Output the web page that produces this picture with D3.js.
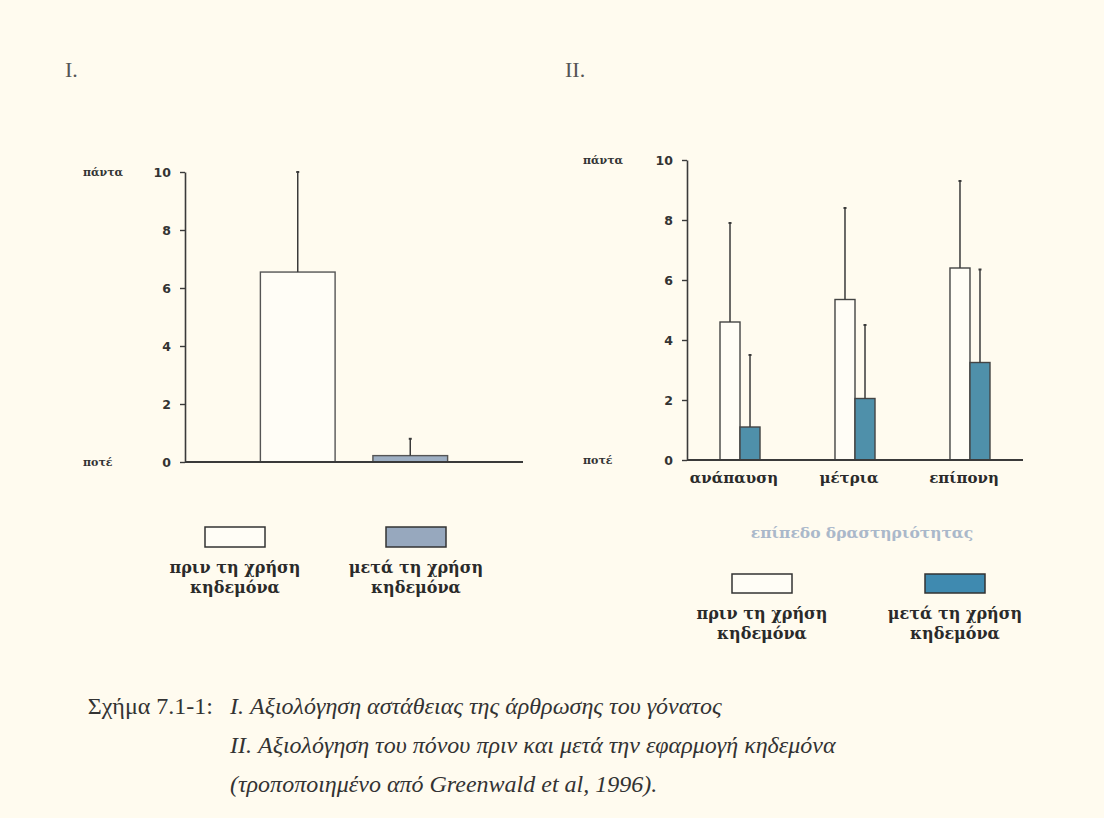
<!DOCTYPE html>
<html>
<head>
<meta charset="utf-8">
<script src="https://cdn.jsdelivr.net/npm/d3@7"></script>
<style>
  body { margin: 0; background: #fffbef; }
  svg { display: block; }
</style>
</head>
<body>
<svg width="1104" height="818"></svg>
<script>
// Chart I: knee joint instability
var groupsI = ["πριν", "μετά"];
var meanI = [6.55, 0.22];
var sdI = [3.45, 0.58];

// Chart II: pain by activity level
var activity = ["ανάπαυση", "μέτρια", "επίπονη"];
var beforeII = [4.6, 5.35, 6.4];
var beforeSdII = [3.3, 3.05, 2.9];
var afterII = [1.1, 2.05, 3.25];
var afterSdII = [2.4, 2.45, 3.1];

var yTicks = [0, 2, 4, 6, 8, 10];
var legendLines = [["πριν τη χρήση", "κηδεμόνα"], ["μετά τη χρήση", "κηδεμόνα"]];

var captionHead = "Σχήμα 7.1-1:";
var captionLines = [
  "I. Αξιολόγηση αστάθειας της άρθρωσης του γόνατος",
  "II. Αξιολόγηση του πόνου πριν και μετά την εφαρμογή κηδεμόνα",
  "(τροποποιημένο από Greenwald et al, 1996)."
];

var svg = d3.select("svg");
var ink = "#3a3a3a";
var boldFont = "'DejaVu Serif', serif";
var capFont = "'Liberation Serif', 'DejaVu Serif', serif";

svg.append("rect").attr("width", 1104).attr("height", 818).attr("fill", "#fffbef");

function yAxis(g, y, labelX) {
  var ax = g.append("g")
    .call(d3.axisLeft(y).tickValues(yTicks).tickSize(5).tickSizeOuter(0).tickPadding(9))
  ax.select(".domain").attr("stroke", ink).attr("stroke-width", 1.6);
  ax.selectAll(".tick line").attr("stroke", ink).attr("stroke-width", 1.4);
  ax.selectAll(".tick text")
    .style("font-family", "'DejaVu Sans', sans-serif")
    .style("font-weight", "bold")
    .style("font-size", "12.5px")
    .attr("fill", "#333");
  [["πάντα", 10], ["ποτέ", 0]].forEach(function(p) {
    g.append("text").attr("x", labelX).attr("y", y(p[1]) + 4)
      .style("font-family", boldFont).style("font-weight", "bold")
      .style("font-size", "11px").attr("fill", "#333").text(p[0]);
  });
}

function errBar(g, x, y0, y1) {
  g.append("line").attr("x1", x).attr("x2", x).attr("y1", y0).attr("y2", y1)
    .attr("stroke", ink).attr("stroke-width", 1.5);
  g.append("line").attr("x1", x - 1.5).attr("x2", x + 1.5).attr("y1", y1).attr("y2", y1)
    .attr("stroke", ink).attr("stroke-width", 2);
}

function legend(g, x0, x1, yRect, w, h, fills) {
  [x0, x1].forEach(function(cx, i) {
    g.append("rect").attr("x", cx - w / 2).attr("y", yRect).attr("width", w).attr("height", h)
      .attr("fill", fills[i]).attr("stroke", "#333").attr("stroke-width", 1.5);
    legendLines[i].forEach(function(t, j) {
      g.append("text").attr("x", cx).attr("y", yRect + h + 26 + j * 20)
        .attr("text-anchor", "middle")
        .style("font-family", boldFont).style("font-weight", "bold").style("font-size", "16px")
        .attr("fill", "#2a2a2a").text(t);
    });
  });
}

// ---------- Chart I ----------
var gI = svg.append("g");
var yI = d3.scaleLinear().domain([0, 10]).range([462, 172]);
var xI = d3.scaleBand().domain(groupsI).range([185, 523]).paddingInner(0.336).paddingOuter(0.67);

gI.append("text").attr("x", 65).attr("y", 77)
  .style("font-family", capFont).style("font-size", "22px")
  .attr("fill", "#555").text("I.");

gI.selectAll(".barI").data(groupsI).enter().append("rect")
  .attr("x", function(d) { return xI(d); })
  .attr("y", function(d, i) { return yI(meanI[i]); })
  .attr("width", xI.bandwidth())
  .attr("height", function(d, i) { return yI(0) - yI(meanI[i]); })
  .attr("fill", function(d, i) { return i === 0 ? "#fffdf6" : "#9eafc3"; })
  .attr("stroke", "#555").attr("stroke-width", 1.4);

groupsI.forEach(function(d, i) {
  errBar(gI, xI(d) + xI.bandwidth() / 2, yI(meanI[i]), yI(meanI[i] + sdI[i]));
});

yAxis(gI.append("g").attr("transform", "translate(185,0)"), yI, -102);
gI.append("line").attr("x1", 185).attr("x2", 523).attr("y1", yI(0)).attr("y2", yI(0))
  .attr("stroke", ink).attr("stroke-width", 2);

legend(gI, 235, 416, 527, 60, 20, ["#fffdf6", "#97a8be"]);

// ---------- Chart II ----------
var gII = svg.append("g");
var yII = d3.scaleLinear().domain([0, 10]).range([460, 160]);
var xII = d3.scaleBand().domain(activity).range([687, 1023]).paddingInner(0.652).paddingOuter(0.287);
var xSub = d3.scaleBand().domain(["before", "after"]).range([0, xII.bandwidth()]);

gII.append("text").attr("x", 565).attr("y", 77)
  .style("font-family", capFont).style("font-size", "22px")
  .attr("fill", "#555").text("II.");

var series = [
  { key: "before", mean: beforeII, sd: beforeSdII, fill: "#fffdf6" },
  { key: "after", mean: afterII, sd: afterSdII, fill: "#4f90aa" }
];

series.forEach(function(s) {
  gII.selectAll(".bar-" + s.key).data(activity).enter().append("rect")
    .attr("x", function(d) { return xII(d) + xSub(s.key); })
    .attr("y", function(d, i) { return yII(s.mean[i]); })
    .attr("width", xSub.bandwidth())
    .attr("height", function(d, i) { return yII(0) - yII(s.mean[i]); })
    .attr("fill", s.fill)
    .attr("stroke", "#444").attr("stroke-width", 1.4);
  activity.forEach(function(d, i) {
    errBar(gII, xII(d) + xSub(s.key) + xSub.bandwidth() / 2, yII(s.mean[i]), yII(s.mean[i] + s.sd[i]));
  });
});

yAxis(gII.append("g").attr("transform", "translate(687,0)"), yII, -104);
gII.append("line").attr("x1", 687).attr("x2", 1023).attr("y1", yII(0)).attr("y2", yII(0))
  .attr("stroke", ink).attr("stroke-width", 2);

gII.selectAll(".xlab").data(activity).enter().append("text")
  .attr("x", function(d) { return xII(d) + xII.bandwidth() / 2 - 6; })
  .attr("y", 483)
  .attr("text-anchor", "middle")
  .style("font-family", boldFont).style("font-weight", "bold").style("font-size", "15px")
  .attr("fill", "#2a2a2a").text(function(d) { return d; });

gII.append("text").attr("x", 862).attr("y", 538).attr("text-anchor", "middle")
  .style("font-family", boldFont).style("font-weight", "bold").style("font-size", "15.5px")
  .attr("fill", "#aab8ca").text("επίπεδο δραστηριότητας");

legend(gII, 762, 955, 574, 60, 19, ["#fffdf6", "#3f8ab0"]);

// ---------- caption ----------
var cap = svg.append("g")
  .style("font-family", capFont).style("font-size", "24px").attr("fill", "#333");
cap.append("text").attr("x", 213).attr("y", 714).attr("text-anchor", "end").text(captionHead);
cap.selectAll(".cl").data(captionLines).enter().append("text")
  .attr("x", 230).attr("y", function(d, i) { return 714 + i * 39; })
  .style("font-style", "italic")
  .text(function(d) { return d; });
</script>
</body>
</html>
